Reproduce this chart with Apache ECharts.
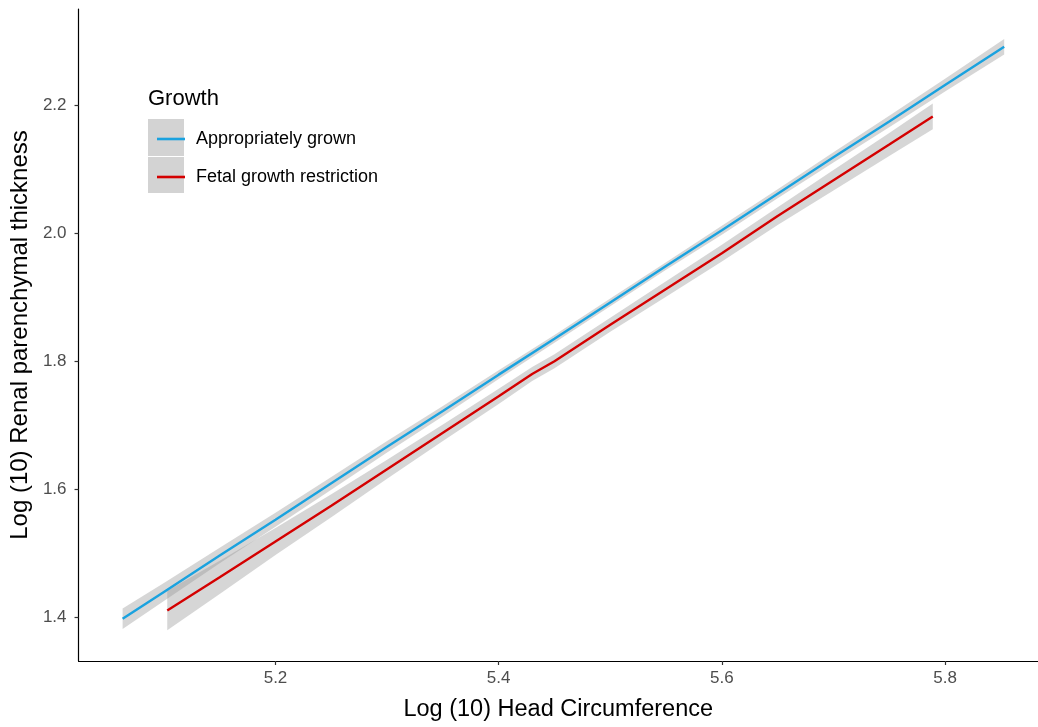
<!DOCTYPE html>
<html>
<head>
<meta charset="utf-8">
<script src="https://cdn.jsdelivr.net/npm/echarts@6/dist/echarts.min.js"></script>
<style>html,body{margin:0;padding:0;background:#fff}#c{width:1038px;height:727px}</style>
</head>
<body>
<div id="c"></div>
<script>
const seriesNames = ['Appropriately grown', 'Fetal growth restriction'];
const xTicks = [5.2, 5.4, 5.6, 5.8];
const yTicks = [1.4, 1.6, 1.8, 2.0, 2.2];

const blueX  = [5.063, 5.10, 5.15, 5.20, 5.25, 5.30, 5.35, 5.40, 5.45, 5.50, 5.55, 5.60, 5.65, 5.70, 5.75, 5.80, 5.853];
const blueY  = [1.397, 1.439, 1.496, 1.552, 1.609, 1.666, 1.722, 1.779, 1.835, 1.892, 1.949, 2.005, 2.062, 2.119, 2.175, 2.232, 2.292];
const blueLo = [1.381, 1.425, 1.484, 1.541, 1.599, 1.657, 1.714, 1.772, 1.829, 1.886, 1.943, 1.998, 2.055, 2.111, 2.166, 2.222, 2.280];
const blueHi = [1.413, 1.453, 1.508, 1.563, 1.619, 1.675, 1.730, 1.786, 1.841, 1.898, 1.955, 2.012, 2.069, 2.127, 2.184, 2.242, 2.304];

const redX  = [5.103, 5.15, 5.20, 5.25, 5.30, 5.35, 5.40, 5.43, 5.45, 5.50, 5.55, 5.60, 5.65, 5.70, 5.75, 5.789];
const redY  = [1.410, 1.462, 1.518, 1.574, 1.631, 1.688, 1.745, 1.780, 1.800, 1.857, 1.913, 1.969, 2.027, 2.083, 2.139, 2.183];
const redLo = [1.379, 1.436, 1.497, 1.556, 1.616, 1.675, 1.733, 1.769, 1.789, 1.846, 1.901, 1.956, 2.013, 2.067, 2.121, 2.163];
const redHi = [1.441, 1.488, 1.539, 1.592, 1.646, 1.701, 1.757, 1.791, 1.811, 1.868, 1.925, 1.982, 2.041, 2.099, 2.157, 2.203];

const blueColor = '#1aa2df';
const redColor = '#d40000';
const ribbonFill = 'rgba(153,153,153,0.4)';

function pairs(xs, ys) { return xs.map((x, i) => [x, ys[i]]); }

function ribbonSeries(name, xs, lo, hi) {
  return {
    name: name, type: 'custom', z: 1, silent: true,
    data: [0],
    renderItem: function (params, api) {
      const pts = [];
      for (let i = 0; i < xs.length; i++) pts.push(api.coord([xs[i], hi[i]]));
      for (let i = xs.length - 1; i >= 0; i--) pts.push(api.coord([xs[i], lo[i]]));
      return { type: 'polygon', shape: { points: pts }, style: { fill: ribbonFill } };
    }
  };
}

const chart = echarts.init(document.getElementById('c'), null, { renderer: 'canvas' });
const fontFam = '"Liberation Sans", Arial, sans-serif';

chart.setOption({
  animation: false,
  backgroundColor: '#ffffff',
  title: {
    text: 'Growth', left: 143, top: 83,
    textStyle: { fontSize: 22, fontWeight: 'normal', color: '#000', fontFamily: fontFam }
  },
  legend: {
    data: seriesNames,
    orient: 'vertical', left: 152, top: 125, z: 5,
    icon: 'path://M0 0H28V2.6H0Z',
    itemWidth: 28, itemHeight: 24, itemGap: 20,
    textStyle: { fontSize: 18, color: '#000', fontFamily: fontFam, padding: [0, 0, 0, 6] }
  },
  graphic: [
    { type: 'rect', left: 148, top: 119, z: 0, shape: { width: 36, height: 37 }, style: { fill: '#d3d3d3' } },
    { type: 'rect', left: 148, top: 157, z: 0, shape: { width: 36, height: 36 }, style: { fill: '#d3d3d3' } }
  ],
  grid: { left: 77, top: 9, right: 0, bottom: 66, containLabel: false },
  xAxis: {
    type: 'value', min: 5.0235, max: 5.8833,
    name: 'Log (10) Head Circumference', nameLocation: 'middle', nameGap: 37,
    nameTextStyle: { fontSize: 23.5, color: '#000', fontFamily: fontFam },
    axisLine: { lineStyle: { color: '#000', width: 1.2 } },
    axisTick: { customValues: xTicks, length: 4, lineStyle: { color: '#333', width: 1.2 } },
    axisLabel: { customValues: xTicks, fontSize: 17, color: '#4d4d4d', margin: 9, fontFamily: fontFam,
      formatter: v => v.toFixed(1) },
    splitLine: { show: false }
  },
  yAxis: {
    type: 'value', min: 1.331, max: 2.351,
    name: 'Log (10) Renal parenchymal thickness', nameLocation: 'middle', nameGap: 42,
    nameTextStyle: { fontSize: 24, color: '#000', fontFamily: fontFam },
    axisLine: { show: true, lineStyle: { color: '#000', width: 1.2 } },
    axisTick: { show: true, customValues: yTicks, length: 4, lineStyle: { color: '#333', width: 1.2 } },
    axisLabel: { customValues: yTicks, fontSize: 17, color: '#4d4d4d', margin: 12, fontFamily: fontFam,
      formatter: v => v.toFixed(1) },
    splitLine: { show: false }
  },
  series: [
    ribbonSeries('blueBand', blueX, blueLo, blueHi),
    ribbonSeries('redBand', redX, redLo, redHi),
    { name: seriesNames[0], type: 'line', z: 3, symbol: 'none', data: pairs(blueX, blueY),
      lineStyle: { color: blueColor, width: 2.4 }, itemStyle: { color: blueColor } },
    { name: seriesNames[1], type: 'line', z: 3, symbol: 'none', data: pairs(redX, redY),
      lineStyle: { color: redColor, width: 2.4 }, itemStyle: { color: redColor } }
  ]
});
</script>
</body>
</html>
